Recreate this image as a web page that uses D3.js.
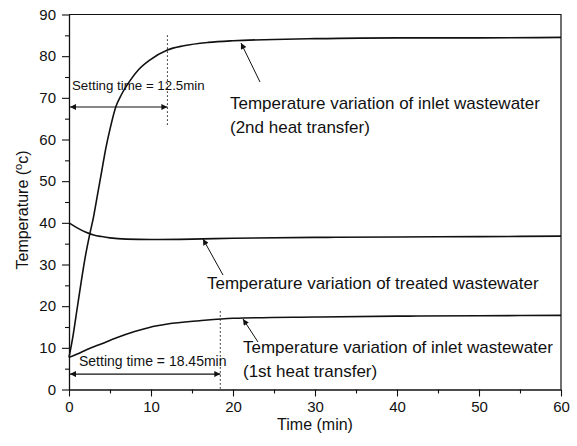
<!DOCTYPE html>
<html>
<head>
<meta charset="utf-8">
<script src="https://cdn.jsdelivr.net/npm/d3@7"></script>
<style>
  body { margin: 0; background: #fff; }
  svg { display: block; font-family: "Liberation Sans", Arial, sans-serif; }
</style>
</head>
<body>
<svg id="chart" width="577" height="446"></svg>
<script>
// values
const time2nd = [0, 0.5, 1, 1.5, 2, 2.5, 3, 3.5, 4, 4.5, 5, 5.7, 6.4, 7.4, 8.5, 9.8, 12, 14, 17, 20, 25, 30, 40, 50, 60];
const temp2nd = [7.7, 13, 19.5, 26, 32, 37, 41.5, 47, 52.5, 58, 62.5, 67.8, 70.8, 74, 76.8, 79, 81.5, 82.5, 83.3, 83.7, 84, 84.2, 84.4, 84.4, 84.5];

const timeTreated = [0, 1, 2, 3, 4, 5, 7, 10, 15, 20, 30, 40, 50, 60];
const tempTreated = [40, 38.8, 37.8, 37.1, 36.7, 36.4, 36.1, 36.0, 36.1, 36.3, 36.5, 36.6, 36.7, 36.8];

const time1st = [0, 1, 2.2, 4, 5.8, 8, 9.8, 12, 15.9, 20, 30, 40, 50, 60];
const temp1st = [7.7, 8.5, 9.6, 11, 12.4, 13.9, 14.9, 15.7, 16.5, 17.1, 17.4, 17.6, 17.7, 17.8];

const xTicks = [0, 10, 20, 30, 40, 50, 60];
const yTicks = [0, 10, 20, 30, 40, 50, 60, 70, 80, 90];
const settleTimes = [12, 18.45];   // where the dotted lines sit
const settleLabels = ['Setting time = 12.5min', 'Setting time = 18.45min'];

const svg = d3.select('#chart');
const x = d3.scaleLinear().domain([0, 60]).range([69, 561]);
const y = d3.scaleLinear().domain([0, 90]).range([389.5, 14.5]);
const ink = '#111';

// arrow heads
const defs = svg.append('defs');
defs.append('marker')
    .attr('id', 'head')
    .attr('viewBox', '0 0 10 10')
    .attr('refX', 10).attr('refY', 5)
    .attr('markerWidth', 9).attr('markerHeight', 6)
    .attr('markerUnits', 'userSpaceOnUse')
    .attr('orient', 'auto-start-reverse')
    .append('path').attr('d', 'M0,0 L10,5 L0,10 Z').attr('fill', ink);

// box
svg.append('path')
    .attr('d', `M${x(0)},${y(90)} H${x(60)} V${y(0)}`)
    .attr('fill', 'none').attr('stroke', ink).attr('stroke-width', 1.2);

// axes with minor ticks
const minor = d3.range(5, 90, 10);
svg.append('g')
    .attr('transform', `translate(${x(0)},0)`)
    .call(d3.axisLeft(y).tickValues(minor).tickSize(4).tickFormat(''))
    .call(g => g.select('.domain').remove());
svg.append('g')
    .attr('transform', `translate(0,${y(0)})`)
    .call(d3.axisBottom(x).tickValues(d3.range(5, 60, 10)).tickSize(4).tickFormat(''))
    .call(g => g.select('.domain').remove());

const yAxis = svg.append('g')
    .attr('transform', `translate(${x(0)},0)`)
    .call(d3.axisLeft(y).tickValues(yTicks).tickSize(7).tickPadding(6).tickSizeOuter(0));
const xAxis = svg.append('g')
    .attr('transform', `translate(0,${y(0)})`)
    .call(d3.axisBottom(x).tickValues(xTicks).tickSize(7).tickPadding(5).tickSizeOuter(0));

svg.selectAll('.tick line').attr('stroke', ink).attr('stroke-width', 1.1);
svg.selectAll('.domain').attr('stroke', ink).attr('stroke-width', 1.3);
svg.selectAll('.tick text').attr('fill', ink).attr('font-size', 15)
    .attr('font-family', '"Liberation Sans", Arial, sans-serif');

// axis titles
svg.append('text')
    .attr('x', 315).attr('y', 430)
    .attr('text-anchor', 'middle').attr('font-size', 16).attr('fill', ink)
    .text('Time (min)');

const yt = svg.append('text')
    .attr('transform', 'translate(28,210) rotate(-90)')
    .attr('text-anchor', 'middle').attr('font-size', 16).attr('fill', ink);
yt.append('tspan').text('Temperature (');
yt.append('tspan').attr('font-size', 11).attr('dy', -6).text('o');
yt.append('tspan').attr('dy', 6).text('c)');

// curves
const line = d3.line().x(d => x(d[0])).y(d => y(d[1])).curve(d3.curveMonotoneX);
const series = [
    d3.zip(time2nd, temp2nd),
    d3.zip(timeTreated, tempTreated),
    d3.zip(time1st, temp1st)
];
svg.append('g')
    .selectAll('path')
    .data(series)
    .enter().append('path')
    .attr('d', line)
    .attr('fill', 'none')
    .attr('stroke', ink)
    .attr('stroke-width', 1.6);

// setting time markers
const dotted = [[85, 63.5], [18.8, 0]];
const arrowY = [67.8, 3.7];
const labelY = [90, 366];
const labelX = [72, 79];
const labelSize = [13.3, 14];
settleTimes.forEach((t, i) => {
    svg.append('line')
        .attr('x1', x(t)).attr('x2', x(t))
        .attr('y1', y(dotted[i][0])).attr('y2', y(dotted[i][1]))
        .attr('stroke', ink).attr('stroke-width', 1)
        .attr('stroke-dasharray', '1.5,2.5');
    svg.append('line')
        .attr('x1', x(0) + 1).attr('x2', x(t))
        .attr('y1', y(arrowY[i])).attr('y2', y(arrowY[i]))
        .attr('stroke', ink).attr('stroke-width', 1.2)
        .attr('marker-start', 'url(#head)')
        .attr('marker-end', 'url(#head)');
    svg.append('text')
        .attr('x', labelX[i]).attr('y', labelY[i])
        .attr('font-size', labelSize[i]).attr('fill', ink)
        .text(settleLabels[i]);
});

// curve labels with pointer arrows
const notes = [
    { lines: ['Temperature variation of inlet wastewater', '(2nd heat transfer)'], x: 230, y: 109, tail: [260, 82], tip: [241, 43] },
    { lines: ['Temperature variation of treated wastewater'], x: 207, y: 289, tail: [223, 275], tip: [203, 239] },
    { lines: ['Temperature variation of inlet wastewater', '(1st heat transfer)'], x: 243, y: 353, tail: [258, 342], tip: [243, 319] }
];
notes.forEach(n => {
    const t = svg.append('text')
        .attr('x', n.x).attr('y', n.y)
        .attr('font-size', 17).attr('fill', ink);
    n.lines.forEach((s, i) => {
        t.append('tspan').attr('x', n.x).attr('dy', i === 0 ? 0 : 24).text(s);
    });
    svg.append('line')
        .attr('x1', n.tail[0]).attr('y1', n.tail[1])
        .attr('x2', n.tip[0]).attr('y2', n.tip[1])
        .attr('stroke', ink).attr('stroke-width', 1)
        .attr('marker-end', 'url(#head)');
});
</script>
</body>
</html>
